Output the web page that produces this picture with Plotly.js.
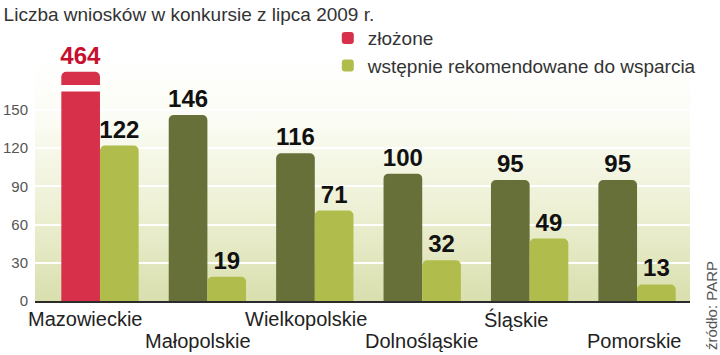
<!DOCTYPE html>
<html>
<head>
<meta charset="utf-8">
<script src="https://cdn.plot.ly/plotly-3.0.1.min.js"></script>
<style>html,body{margin:0;padding:0;background:#fff;}#chart{width:720px;height:355px;}</style>
</head>
<body>
<div id="chart"></div>
<script>
// ---- data ----
const regions = ['Mazowieckie', 'Małopolskie', 'Wielkopolskie', 'Dolnośląskie', 'Śląskie', 'Pomorskie'];
const zlozone = [464, 146, 116, 100, 95, 95];
const rekomendowane = [122, 19, 71, 32, 49, 13];
const seriesNames = ['złożone', 'wstępnie rekomendowane do wsparcia'];
const yTicks = [0, 30, 60, 90, 120, 150];
const titleText = 'Liczba wniosków w konkursie z lipca 2009 r.';
const sourceText = 'źródło: PARP';

// ---- styling ----
const axisCap = 180;          // bars above this are drawn cut (axis break)
const breakLo = 164.5, breakHi = 169.5;
const red = '#d6304b', dark = '#687039', light = '#b0bd4c';
const labelShift = [-15, -9, -9, -1, -14, -3];
const labelRow = [0, 1, 0, 1, 0, 1];
const F = 'Liberation Sans, Arial, sans-serif';

const zShown = zlozone.map(v => Math.min(v, axisCap));
const zColors = zlozone.map(v => v > axisCap ? red : dark);
const zTextColors = zlozone.map(v => v > axisCap ? '#c8102e' : '#111');

const bgSvg = '<svg xmlns="http://www.w3.org/2000/svg" width="10" height="100" preserveAspectRatio="none">' +
  '<defs><linearGradient id="g" x1="0" y1="0" x2="0" y2="1">' +
  '<stop offset="0" stop-color="#ffffff"/><stop offset="0.25" stop-color="#fbfcf4"/>' +
  '<stop offset="0.6" stop-color="#eef1d6"/><stop offset="1" stop-color="#d9dfae"/></linearGradient></defs>' +
  '<rect width="10" height="100" fill="url(#g)"/></svg>';
const bgSrc = 'data:image/svg+xml;base64,' + btoa(bgSvg);

const traces = [
  {
    type: 'bar', name: seriesNames[0], x: regions, y: zShown,
    marker: {color: zColors, cornerradius: 5},
    text: zlozone.map(String), textposition: 'outside',
    textfont: {family: F, size: 24, color: zTextColors, weight: 'bold'},
    constraintext: 'none', cliponaxis: false, hoverinfo: 'skip'
  },
  {
    type: 'bar', name: seriesNames[1], x: regions, y: rekomendowane,
    marker: {color: light, cornerradius: 5},
    text: rekomendowane.map(String), textposition: 'outside',
    textfont: {family: F, size: 24, color: '#111', weight: 'bold'},
    constraintext: 'none', cliponaxis: false, hoverinfo: 'skip'
  }
];

const annotations = regions.map((r, i) => ({
  text: r, x: r, xref: 'x', yref: 'paper',
  y: labelRow[i] ? -0.165 : -0.075, yanchor: 'middle', xanchor: 'center',
  xshift: labelShift[i], showarrow: false,
  font: {family: F, size: 20, color: '#222'}
}));
annotations.push({
  text: sourceText, xref: 'paper', yref: 'paper', x: 1.033, y: -0.21, xanchor: 'center', yanchor: 'bottom',
  textangle: -90, showarrow: false,
  font: {family: F, size: 15, color: '#555'}
});

const layout = {
  width: 720, height: 355,
  margin: {l: 35, r: 30, t: 59, b: 54, pad: 0},
  paper_bgcolor: '#ffffff', plot_bgcolor: 'rgba(0,0,0,0)',
  title: {text: titleText, x: 0.005, xanchor: 'left', xref: 'container', y: 0.96, yref: 'container', yanchor: 'middle',
          font: {family: F, size: 19, color: '#333'}},
  barmode: 'group', bargap: 0.28, bargroupgap: 0,
  xaxis: {range: [-0.605, 5.493], showticklabels: false, showline: true, linecolor: '#2b2b2b', linewidth: 2,
          showgrid: false, ticks: '', fixedrange: true},
  yaxis: {range: [0, 190], tickvals: yTicks, ticktext: yTicks.map(String), showgrid: true, gridcolor: '#ffffff', gridwidth: 2,
          zeroline: false, showline: false, ticks: '', ticklabelstandoff: 6,
          tickfont: {family: F, size: 15, color: '#555'}},
  legend: {x: 0.447, y: 1.165, xanchor: 'left', yanchor: 'top',
           bgcolor: 'rgba(0,0,0,0)', tracegroupgap: 0,
           font: {family: F, size: 19, color: '#333'}},
  images: [{source: bgSrc, xref: 'paper', yref: 'paper', x: 0, y: 1, sizex: 1, sizey: 1,
            sizing: 'stretch', layer: 'below', xanchor: 'left', yanchor: 'top'}],
  shapes: [{type: 'rect', xref: 'x', yref: 'y', x0: -0.45, x1: 0, y0: breakLo, y1: breakHi,
            fillcolor: '#ffffff', line: {width: 0}}],
  annotations: annotations,
  showlegend: true
};

Plotly.newPlot('chart', traces, layout, {staticPlot: true, displayModeBar: false});
</script>
</body>
</html>
